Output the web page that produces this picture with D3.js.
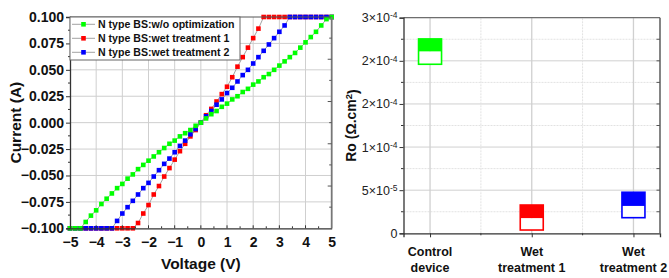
<!DOCTYPE html>
<html>
<head>
<meta charset="utf-8">
<script src="https://cdn.jsdelivr.net/npm/d3@7"></script>
<style>
  body { margin: 0; background: #fff; }
  svg { display: block; font-family: Arial, "Liberation Sans", sans-serif; }
</style>
</head>
<body>
<svg id="chart" width="669" height="278"></svg>
<script>
// I-V data, 0.2 V steps from -5 to 5
const voltage = d3.range(51).map(i => -5 + i * 0.2);
const currentGreen = [-0.100, -0.100, -0.100, -0.094, -0.088, -0.083, -0.077, -0.072, -0.067, -0.062,
  -0.058, -0.053, -0.049, -0.044, -0.040, -0.036, -0.032, -0.028, -0.024, -0.020,
  -0.017, -0.013, -0.010, -0.007, -0.003, 0.000, 0.004, 0.008, 0.011, 0.015,
  0.018, 0.022, 0.025, 0.029, 0.032, 0.036, 0.039, 0.043, 0.046, 0.050,
  0.054, 0.058, 0.062, 0.066, 0.071, 0.076, 0.081, 0.086, 0.092, 0.098, 0.100];
const currentRed = [-0.100, -0.100, -0.100, -0.100, -0.100, -0.100, -0.100, -0.100, -0.100, -0.100,
  -0.100, -0.100, -0.100, -0.095, -0.086, -0.078, -0.068, -0.060, -0.051, -0.043,
  -0.035, -0.027, -0.020, -0.013, -0.007, 0.000, 0.007, 0.013, 0.020, 0.027,
  0.034, 0.043, 0.053, 0.062, 0.071, 0.080, 0.089, 0.100, 0.100, 0.100,
  0.100, 0.100, 0.100, 0.100, 0.100, 0.100, 0.100, 0.100, 0.100, 0.100, 0.100];
const currentBlue = [-0.100, -0.100, -0.100, -0.100, -0.100, -0.100, -0.100, -0.100, -0.100, -0.093,
  -0.086, -0.080, -0.074, -0.068, -0.062, -0.057, -0.051, -0.045, -0.039, -0.034,
  -0.028, -0.022, -0.017, -0.011, -0.006, 0.000, 0.006, 0.011, 0.017, 0.022,
  0.028, 0.033, 0.039, 0.045, 0.050, 0.056, 0.062, 0.068, 0.074, 0.080,
  0.086, 0.092, 0.100, 0.100, 0.100, 0.100, 0.100, 0.100, 0.100, 0.100, 0.100];
const seriesNames = ["N type BS:w/o optimization", "N type BS:wet treatment 1", "N type BS:wet treatment 2"];
const xTicks = [-5, -4, -3, -2, -1, 0, 1, 2, 3, 4, 5];
const yTicks = [-0.100, -0.075, -0.050, -0.025, 0.000, 0.025, 0.050, 0.075, 0.100];

// Ro box data
const categories = ["Control device", "Wet treatment 1", "Wet treatment 2"];
const roTop = [2.254e-4, 0.328e-4, 0.476e-4];
const roMid = [2.107e-4, 0.174e-4, 0.317e-4];
const roBottom = [1.96e-4, 0.038e-4, 0.181e-4];
const roTicks = [0, 5e-5, 1e-4, 1.5e-4, 2e-4, 2.5e-4];
const roTickMantissa = ["0", "5", "1", "2", "2", "3"];
const roTickExponent = ["", "-5", "-4", "-4", "-4", "-4"];

const colors = ["#00ff00", "#ff0000", "#0000ff"];
const svg = d3.select("#chart");

// ---------- left chart ----------
const x = d3.scaleLinear().domain([-5, 5]).range([70, 331.7]);
const y = d3.scaleLinear().domain([-0.1, 0.1]).range([228.3, 17]);

const left = svg.append("g");
left.append("g").selectAll("line").data(xTicks.slice(1, -1)).enter().append("line")
  .attr("x1", d => x(d)).attr("x2", d => x(d)).attr("y1", y(-0.1)).attr("y2", y(0.1))
  .attr("stroke", "#cfcfcf").attr("stroke-width", 1);
left.append("g").selectAll("line").data(yTicks.slice(1, -1)).enter().append("line")
  .attr("x1", x(-5)).attr("x2", x(5)).attr("y1", d => y(d)).attr("y2", d => y(d))
  .attr("stroke", "#cfcfcf").attr("stroke-width", 1);

// series: red, blue, then green on top
const series = [
  { name: seriesNames[1], values: currentRed, color: colors[1] },
  { name: seriesNames[2], values: currentBlue, color: colors[2] },
  { name: seriesNames[0], values: currentGreen, color: colors[0] }
];
const line = d3.line().x((d, i) => x(voltage[i])).y(d => y(d));
series.forEach(s => {
  left.append("path").datum(s.values).attr("d", line)
    .attr("fill", "none").attr("stroke", "#8a8a8a").attr("stroke-width", 0.8);
  left.append("g").selectAll("rect").data(s.values).enter().append("rect")
    .attr("x", (d, i) => x(voltage[i]) - 2.3).attr("y", d => y(d) - 2.3)
    .attr("width", 4.6).attr("height", 4.6).attr("fill", s.color);
});

// frame
left.append("line").attr("x1", x(-5)).attr("x2", x(5)).attr("y1", y(0.1)).attr("y2", y(0.1))
  .attr("stroke", "#555").attr("stroke-width", 1);
left.append("line").attr("x1", x(5)).attr("x2", x(5)).attr("y1", y(0.1)).attr("y2", y(-0.1))
  .attr("stroke", "#777").attr("stroke-width", 1.8);
// right inner ticks
left.append("g").selectAll("line").data(d3.range(-4, 5).map(k => k * 0.02)).enter().append("line")
  .attr("x1", x(5)).attr("x2", (d, i) => x(5) - (i % 2 ? 4 : 2.5))
  .attr("y1", d => y(d)).attr("y2", d => y(d)).attr("stroke", "#555");

const xAxis = left.append("g").attr("transform", `translate(0,${y(-0.1)})`)
  .call(d3.axisBottom(x).tickValues(xTicks).tickSize(0).tickPadding(9).tickFormat(d3.format("d")));
xAxis.select(".domain").attr("stroke", "#333").attr("stroke-width", 1.3);
xAxis.selectAll("text").attr("font-size", 14).attr("font-weight", "bold").attr("fill", "#111");
left.append("g").selectAll("line").data(d3.range(-9, 10).map(k => k * 0.5)).enter().append("line")
  .attr("x1", d => x(d)).attr("x2", d => x(d)).attr("y1", y(-0.1)).attr("y2", (d, i) => y(-0.1) - (i % 2 ? 3 : 2))
  .attr("stroke", "#333");

const yAxis = left.append("g").attr("transform", `translate(${x(-5)},0)`)
  .call(d3.axisLeft(y).tickValues(yTicks).tickSize(4).tickPadding(2).tickFormat(d3.format(".3f")));
yAxis.select(".domain").attr("stroke", "#333").attr("stroke-width", 1.3);
yAxis.selectAll("line").attr("stroke", "#333");
yAxis.selectAll("text").attr("font-size", 14).attr("font-weight", "bold").attr("fill", "#111");
left.append("g").selectAll("line").data(d3.range(8).map(k => -0.0875 + k * 0.025)).enter().append("line")
  .attr("x1", x(-5)).attr("x2", x(-5) - 2).attr("y1", d => y(d)).attr("y2", d => y(d)).attr("stroke", "#333");

left.append("text").attr("x", x(0)).attr("y", 269).attr("text-anchor", "middle")
  .attr("font-size", 15.5).attr("font-weight", "bold").attr("fill", "#111").text("Voltage (V)");
left.append("text").attr("transform", `translate(21,${y(0)}) rotate(-90)`).attr("text-anchor", "middle")
  .attr("font-size", 15.5).attr("font-weight", "bold").attr("fill", "#111").text("Current (A)");

// legend
const legend = left.append("g");
legend.append("rect").attr("x", x(-5)).attr("y", y(0.1)).attr("width", 170).attr("height", 43)
  .attr("fill", "#fff").attr("stroke", "#666").attr("stroke-width", 1);
seriesNames.forEach((name, i) => {
  const ly = 24.3 + i * 14;
  legend.append("line").attr("x1", 72).attr("x2", 95).attr("y1", ly).attr("y2", ly)
    .attr("stroke", "#8a8a8a").attr("stroke-width", 0.8);
  legend.append("rect").attr("x", 83.5 - 2.3).attr("y", ly - 2.3).attr("width", 4.6).attr("height", 4.6)
    .attr("fill", colors[i]);
  legend.append("text").attr("x", 98).attr("y", ly + 3.8).attr("font-size", 10.6)
    .attr("font-weight", "bold").attr("fill", "#111").text(name);
});

// ---------- right chart ----------
const xr = d3.scalePoint().domain(categories).range([403.5, 660]).padding(0.261);
const yr = d3.scaleLinear().domain([0, 2.5e-4]).range([233.3, 17.7]);
const right = svg.append("g");
const minorR = d3.range(5).map(k => 2.5e-5 + k * 5e-5);
right.append("g").selectAll("line").data(minorR).enter().append("line")
  .attr("x1", 403.5).attr("x2", 660).attr("y1", d => yr(d)).attr("y2", d => yr(d))
  .attr("stroke", "#e2e2e2").attr("stroke-dasharray", "2,1");
right.append("g").selectAll("line").data(roTicks.slice(1)).enter().append("line")
  .attr("x1", 403.5).attr("x2", 660).attr("y1", d => yr(d)).attr("y2", d => yr(d))
  .attr("stroke", "#d0d0d0");
const mids = [(xr(categories[0]) + xr(categories[1])) / 2, (xr(categories[1]) + xr(categories[2])) / 2];
right.append("g").selectAll("line").data(mids).enter().append("line")
  .attr("x1", d => d).attr("x2", d => d).attr("y1", yr(0)).attr("y2", yr(2.5e-4))
  .attr("stroke", "#e2e2e2").attr("stroke-dasharray", "2,1");
right.append("g").selectAll("line").data(categories).enter().append("line")
  .attr("x1", d => xr(d)).attr("x2", d => xr(d)).attr("y1", yr(0)).attr("y2", yr(2.5e-4))
  .attr("stroke", "#d0d0d0").attr("stroke-width", 1.3);

// boxes
const bw = 23;
categories.forEach((c, i) => {
  const cx = xr(c);
  right.append("rect").attr("x", cx - bw / 2).attr("y", yr(roTop[i])).attr("width", bw)
    .attr("height", yr(roMid[i]) - yr(roTop[i])).attr("fill", colors[i]);
  right.append("rect").attr("x", cx - bw / 2).attr("y", yr(roMid[i])).attr("width", bw)
    .attr("height", yr(roBottom[i]) - yr(roMid[i])).attr("fill", "#fff");
  right.append("rect").attr("x", cx - bw / 2).attr("y", yr(roTop[i])).attr("width", bw)
    .attr("height", yr(roBottom[i]) - yr(roTop[i])).attr("fill", "none")
    .attr("stroke", colors[i]).attr("stroke-width", 1.6);
});

// frame
right.append("line").attr("x1", 403.5).attr("x2", 660).attr("y1", yr(2.5e-4)).attr("y2", yr(2.5e-4))
  .attr("stroke", "#555");
right.append("line").attr("x1", 660).attr("x2", 660).attr("y1", yr(2.5e-4)).attr("y2", yr(0))
  .attr("stroke", "#666").attr("stroke-width", 1.6);
right.append("g").selectAll("line").data(d3.range(1, 10).map(k => k * 2.5e-5)).enter().append("line")
  .attr("x1", 660).attr("x2", 656.5).attr("y1", d => yr(d)).attr("y2", d => yr(d)).attr("stroke", "#555");

const yrAxis = right.append("g").attr("transform", "translate(403.5,0)")
  .call(d3.axisLeft(yr).tickValues(roTicks).tickSize(4).tickPadding(2).tickFormat(() => ""));
yrAxis.select(".domain").attr("stroke", "#333").attr("stroke-width", 1.3);
yrAxis.selectAll("line").attr("stroke", "#333");
yrAxis.selectAll(".tick text").each(function (d, i) {
  const t = d3.select(this).attr("font-size", 12.5).attr("fill", "#222");
  if (i === 0) { t.text("0"); return; }
  t.append("tspan").text(roTickMantissa[i] + "×10");
  t.append("tspan").attr("dy", "-0.45em").attr("font-size", 8.5).text(roTickExponent[i]);
});
right.append("g").selectAll("line").data(minorR).enter().append("line")
  .attr("x1", 403.5).attr("x2", 401).attr("y1", d => yr(d)).attr("y2", d => yr(d)).attr("stroke", "#333");

const xrAxis = right.append("g").attr("transform", `translate(0,${yr(0)})`)
  .call(d3.axisBottom(xr).tickSize(4).tickFormat(() => ""));
xrAxis.select(".domain").attr("stroke", "#333").attr("stroke-width", 1.3);
xrAxis.selectAll("line").attr("stroke", "#333");
right.append("g").selectAll("line").data(mids).enter().append("line")
  .attr("x1", d => d).attr("x2", d => d).attr("y1", yr(0)).attr("y2", yr(0) + 2).attr("stroke", "#333");

categories.forEach(c => {
  const words = c.split(" ");
  const l1 = words[0];
  const l2 = words.slice(1).join(" ");
  const t = right.append("text").attr("text-anchor", "middle").attr("font-size", 12.5)
    .attr("font-weight", "bold").attr("fill", "#111");
  t.append("tspan").attr("x", xr(c)).attr("y", 255.5).text(l1);
  t.append("tspan").attr("x", xr(c)).attr("y", 272).text(l2);
});

const rt = right.append("text").attr("transform", `translate(356,${yr(1.25e-4)}) rotate(-90)`)
  .attr("text-anchor", "middle").attr("font-size", 14).attr("font-weight", "bold").attr("fill", "#111");
rt.append("tspan").text("Ro (Ω.cm");
rt.append("tspan").attr("dy", "-0.4em").attr("font-size", 9.5).text("2");
rt.append("tspan").attr("dy", "0.4em").text(")");
</script>
</body>
</html>
